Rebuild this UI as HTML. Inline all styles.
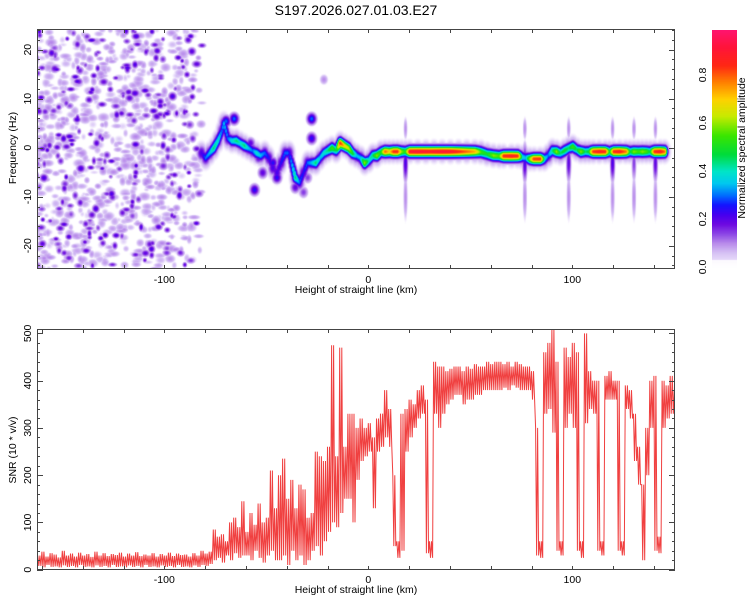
<!DOCTYPE html>
<html><head><meta charset="utf-8">
<style>
body{margin:0;width:750px;height:600px;background:#fff;overflow:hidden;font-family:"Liberation Sans",sans-serif;}
#root{position:relative;width:750px;height:600px;}
canvas{position:absolute;}
svg{position:absolute;left:0;top:0;}
</style></head><body>
<div id="root">
<canvas id="spec" width="638" height="240" style="left:37px;top:29px"></canvas>
<canvas id="cbar" width="25" height="238" style="left:712px;top:30px"></canvas>
<svg id="svg" width="750" height="600">
<text x="356" y="15" font-size="14" text-anchor="middle" fill="#000">S197.2026.027.01.03.E27</text>
<text x="356" y="293" font-size="10.5" text-anchor="middle">Height of straight line (km)</text>
<text x="356" y="593" font-size="10.5" text-anchor="middle">Height of straight line (km)</text>
<text transform="translate(16,148) rotate(-90)" font-size="10.5" text-anchor="middle">Frequency (Hz)</text>
<text transform="translate(16,450) rotate(-90)" font-size="10.5" text-anchor="middle">SNR (10 * v/v)</text>
<text transform="translate(745,148) rotate(-90)" font-size="10.5" text-anchor="middle">Normalized spectral amplitude</text>
<g id="axes"></g>
</svg>
</div>
<script>
// ---- data ----
const snrStartKm = -162, snrStepKm = 2;
const snrHi = [30,38,28,35,32,26,40,30,34,28,36,30,33,27,38,30,35,29,33,31,36,28,34,30,37,29,32,30,35,28,33,30,36,29,34,31,32,28,35,30,40,34,38,
85,70,75,60,100,110,90,145,
80,120,95,140,100,110,210,130,
200,235,150,190,130,
180,170,110,120,250,
240,230,
260,475,240,470,260,330,330,300,320,300,310,280,320,330,380,340,200,60,330,340,360,350,380,390,360,60,440,
430,430,420,425,430,430,420,430,425,435,430,430,440,435,440,440,435,440,430,440,435,430,430,420,
300,60,460,480,510,440,60,470,450,480,460,60,500,420,400,400,60,410,420,400,400,60,390,380,330,260,180,300,400,410,70,400,390,410,380];
const snrLo = [8,5,10,6,7,5,9,6,8,5,10,6,7,5,9,6,8,5,10,6,7,5,9,6,8,5,10,6,7,5,9,6,8,5,10,6,7,5,9,6,10,8,12,
20,25,15,30,20,35,25,30,
30,20,40,25,15,30,40,20,
20,30,10,40,20,
30,10,20,40,50,
30,60,
80,100,90,120,150,150,100,190,230,240,250,130,250,260,280,260,50,25,40,250,280,300,320,330,35,25,330,
300,330,350,360,370,370,350,360,360,370,370,380,380,380,380,380,385,380,390,385,380,380,380,360,
30,25,330,340,290,40,30,300,330,300,40,25,310,340,330,40,30,360,360,360,40,30,340,320,230,180,20,200,300,40,35,300,320,330,330];
const trackKm = [-82,-80,-78,-76,-74,-72,-71,-69,-67,-65,-63,-61,-59,-57,-55,-53,-51,-49,-47,-45,-43,-41,-39,
-36,-34,-32,-30,-28,-26,-24,-22,-20,-18,-16,-14,-12,-10,-8,-6,-4,-2,0,2,4,6,8,10,12,14,16,18,20,24,28,32,36,40,44,48,52,55,58,61,64,66,70,73,75,77,79,81,84,86,88,90,92,94,96,98,100,102,104,106,108,110,113,116,118,120,123,126,128,130,132,134,136,138,140,143,145];
const trackHz = [-1,-2,-1,0,1.5,3.5,5,2,1.5,1.5,1,0.5,0,-0.5,-1,-1.5,-1,-2,-4,-5,-3,-1,-1,
-6,-7,-5,-3,-3,-3,-2,-1,-0.5,0,-0.5,1,0.5,0,-1,-1.5,-2,-3,-2.5,-1.5,-1.5,-0.8,-0.7,-0.7,-0.7,-0.7,-0.7,-0.7,-0.7,-0.7,-0.7,-0.7,-0.7,-0.7,-0.7,-0.7,-0.7,-0.8,-1.2,-1.5,-1.6,-1.6,-1.6,-1.6,-1.8,-2,-2.2,-2.2,-2.2,-2.2,-1.5,-0.5,-0.7,-1,-0.5,0,0.3,-0.3,-0.7,-0.7,-0.7,-0.7,-0.7,-0.7,-0.7,-0.7,-0.7,-0.7,-0.7,-0.7,-0.7,-0.7,-0.7,-0.7,-0.7,-0.7,-0.7];
const trackAmp = [0.2,0.3,0.35,0.45,0.4,0.3,0.35,0.3,0.4,0.45,0.4,0.45,0.35,0.3,0.4,0.35,0.3,0.25,0.2,0.2,0.25,0.3,0.25,
0.45,0.3,0.25,0.3,0.35,0.45,0.35,0.4,0.45,0.55,0.45,0.85,0.7,0.65,0.5,0.35,0.35,0.6,0.4,0.45,0.6,0.5,0.8,0.7,0.85,0.85,0.6,0.5,0.9,0.92,0.92,0.92,0.92,0.9,0.85,0.8,0.75,0.55,0.5,0.6,0.55,0.85,0.88,0.85,0.4,0.35,0.6,0.85,0.85,0.4,0.3,0.45,0.6,0.45,0.5,0.45,0.55,0.45,0.6,0.45,0.5,0.85,0.88,0.85,0.45,0.85,0.88,0.8,0.45,0.6,0.55,0.6,0.55,0.45,0.85,0.88,0.8];
const featKm = [-56,-52,-40,-28,-28,-22,-45,-47,-36,-66,-70,-58,-54,-44,-32,-30];
const featHz = [-8.5,-5,-1,6,2,14,-6,-3,-8,6,5.5,1,-2,-4,-9,-6];
const featAmp = [0.25,0.2,0.3,0.3,0.25,0.1,0.25,0.25,0.2,0.3,0.3,0.2,0.2,0.2,0.15,0.15];
const streakKm = [18,76.5,98,119.5,130,140.5];
const streakAmp = [0.22,0.22,0.2,0.22,0.15,0.2];
const xTicks = [-100,0,100];
const freqTicks = [-20,-10,0,10,20];
const snrTicks = [0,100,200,300,400,500];
const cbTicks = ["0.0","0.2","0.4","0.6","0.8"];

// ---- scales ----
const X0=368.3, KX=2.04;
const xs = km => X0 + km*KX;
const yf = hz => 147.7 - hz*4.9;
const ysn = v => 569.7 - v*0.4726;
const PL=37, PR=675, TT=29, TB=269, BT=329, BB=570;

// ---- colormap ----
const stops=[[0,255,255,255],[0.03,232,218,250],[0.06,215,195,245],[0.10,185,140,235],[0.14,140,70,230],[0.18,110,10,225],[0.22,70,0,240],[0.26,20,20,255],[0.30,0,110,255],[0.35,0,200,240],[0.40,0,230,200],[0.47,0,220,60],[0.55,60,230,0],[0.63,200,235,0],[0.70,255,210,0],[0.77,255,130,0],[0.84,255,40,20],[0.92,255,20,60],[1.0,255,20,120]];
function cmap(v){
  v=Math.max(0,Math.min(1,v));
  for(let i=1;i<stops.length;i++){
    if(v<=stops[i][0]){const a=stops[i-1],b=stops[i],t=(v-a[0])/(b[0]-a[0]);
      return [a[1]+(b[1]-a[1])*t,a[2]+(b[2]-a[2])*t,a[3]+(b[3]-a[3])*t];}
  }
  return stops[stops.length-1].slice(1);
}

// ---- spectrogram field ----
const W=638,H=240, F=new Float32Array(W*H);
function blob(cx,cy,amp,sx,sy){
  const rx=Math.ceil(sx*2.6), ry=Math.ceil(sy*2.6);
  for(let y=Math.max(0,Math.floor(cy-ry));y<=Math.min(H-1,cy+ry);y++){
    const dy=(y-cy)/sy;
    for(let x=Math.max(0,Math.floor(cx-rx));x<=Math.min(W-1,cx+rx);x++){
      const dx=(x-cx)/sx, v=amp*Math.exp(-(dx*dx+dy*dy));
      const k=y*W+x; if(v>F[k])F[k]=v;
    }
  }
}
const cx = km => xs(km)-PL, cy = hz => yf(hz)-TT;
// noise texture (seeded LCG) in the pre-signal region
let seed=12345; const rnd=()=>{seed=(seed*1103515245+12345)%2147483648;return seed/2147483648;};
for(let i=0;i<900;i++){
  const km=-163+rnd()*83; const fade = km>-92 ? (-80-km)/12 : 1;
  if(rnd()>fade) continue;
  blob(cx(km),rnd()*H,0.055+rnd()*0.05,3+rnd()*4,2.5+rnd()*3);
}
for(let i=0;i<260;i++){
  const km=-163+rnd()*82; const fade = km>-92 ? (-81-km)/11 : 1;
  if(rnd()>fade) continue;
  blob(cx(km),rnd()*H,0.14+rnd()*0.09,2+rnd()*2.5,2+rnd()*2);
}
// haze + track
for(let i=0;i<trackKm.length;i++){
  blob(cx(trackKm[i]),cy(trackHz[i]),0.1,7,13);
  blob(cx(trackKm[i]),cy(trackHz[i]),0.22,4.5,7.5);
  if(i+1<trackKm.length && trackKm[i+1]-trackKm[i]<=4){
    const n=Math.ceil((trackKm[i+1]-trackKm[i])/0.5);
    for(let j=0;j<n;j++){const t=j/n;
      blob(cx(trackKm[i]+(trackKm[i+1]-trackKm[i])*t),cy(trackHz[i]+(trackHz[i+1]-trackHz[i])*t),trackAmp[i]+(trackAmp[i+1]-trackAmp[i])*t,3,5.3);}
  } else blob(cx(trackKm[i]),cy(trackHz[i]),trackAmp[i],3,5.3);
}
for(let i=0;i<featKm.length;i++) blob(cx(featKm[i]),cy(featHz[i]),featAmp[i],4.5,5.5);
for(let i=0;i<streakKm.length;i++){
  blob(cx(streakKm[i]),cy(-3),streakAmp[i],2.4,18);
  blob(cx(streakKm[i]),cy(-10),0.1,2.4,25);
  blob(cx(streakKm[i]),cy(4),0.1,2.2,12);
}
const sctx=document.getElementById('spec').getContext('2d');
const img=sctx.createImageData(W,H);
for(let k=0;k<W*H;k++){
  const v=F[k]; if(v<0.03) continue;
  const c=cmap(v); const a=v<0.06?(v-0.03)/0.03:1;
  img.data[4*k]=c[0];img.data[4*k+1]=c[1];img.data[4*k+2]=c[2];img.data[4*k+3]=a*255;
}
sctx.putImageData(img,0,0);
// colorbar
const cb=document.getElementById('cbar').getContext('2d');
for(let y=0;y<238;y++){const v=(267-(30+y))/240; const c=cmap(v);
  const a=v<0.03?0.15:1; cb.fillStyle=`rgba(${c[0]|0},${c[1]|0},${c[2]|0},${a})`; cb.fillRect(0,y,25,1);}

// ---- axes ----
const NS='http://www.w3.org/2000/svg';
const g=document.getElementById('axes');
function el(tag,attrs,txt){const e=document.createElementNS(NS,tag);for(const k in attrs)e.setAttribute(k,attrs[k]);if(txt!==undefined)e.textContent=txt;g.appendChild(e);return e;}
function line(x1,y1,x2,y2,nm){const e=el('line',{x1,y1,x2,y2,stroke:'#444','stroke-width':1});

}
// SNR polyline: zigzag between envelope values within each bin
const P=[];
for(let i=0;i<snrHi.length;i++){
  const x0=xs(snrStartKm+i*snrStepKm);
  for(let j=0;j<4;j++){
    const v=(j%2===0)?snrHi[i]:snrLo[i];
    P.push((x0+j*KX*snrStepKm/4).toFixed(1)+','+ysn(v).toFixed(1));
  }
}
const clipR=el('clipPath',{id:'cb'}); const cr=document.createElementNS(NS,'rect');
cr.setAttribute('x',PL);cr.setAttribute('y',BT);cr.setAttribute('width',PR-PL);cr.setAttribute('height',BB-BT);clipR.appendChild(cr);
const pl=el('polyline',{points:P.join(' '),fill:'none',stroke:'#ee2b2b','stroke-width':1,'stroke-opacity':0.9,'clip-path':'url(#cb)'});


// frames
for(const [t,b,nm] of [[TT,TB,'top-plot-frame'],[BT,BB,'bottom-plot-frame']]){
  const r=el('rect',{x:PL+0.5,y:t+0.5,width:PR-PL-1,height:b-t-1,fill:'none',stroke:'#444','stroke-width':1});
  
  
  for(let km=-160;km<=150;km+=20){const x=Math.round(xs(km))+0.5;
    line(x,t,x,t+4,'x-tick');line(x,b,x,b-4,'x-tick');}
}
for(let hz=-24;hz<=24;hz+=2){const y=Math.round(yf(hz))+0.5,L=hz%10===0?6:3;
  line(PL,y,PL+L,y,'freq-tick');line(PR,y,PR-L,y,'freq-tick');}
for(let v=0;v<=500;v+=20){const y=Math.round(ysn(v))+0.5,L=v%100===0?6:3;
  line(PL,y,PL+L,y,'snr-tick');line(PR,y,PR-L,y,'snr-tick');}
for(const km of xTicks){
  for(const y of [283,583]){const t=el('text',{x:xs(km),y,'font-size':10.5,'text-anchor':'middle'},String(km));
  
  }
}
for(const hz of freqTicks){const t=el('text',{transform:`translate(31,${yf(hz)}) rotate(-90)`,'font-size':10.5,'text-anchor':'middle'},String(hz));
  
  }
for(const v of snrTicks){const t=el('text',{transform:`translate(31,${ysn(v)}) rotate(-90)`,'font-size':10.5,'text-anchor':'middle'},String(v));
  
  }
cbTicks.forEach((s,i)=>{const t=el('text',{transform:`translate(706,${267-i*48}) rotate(-90)`,'font-size':10.5,'text-anchor':'middle'},s);
  
  });
</script>
</body></html>
